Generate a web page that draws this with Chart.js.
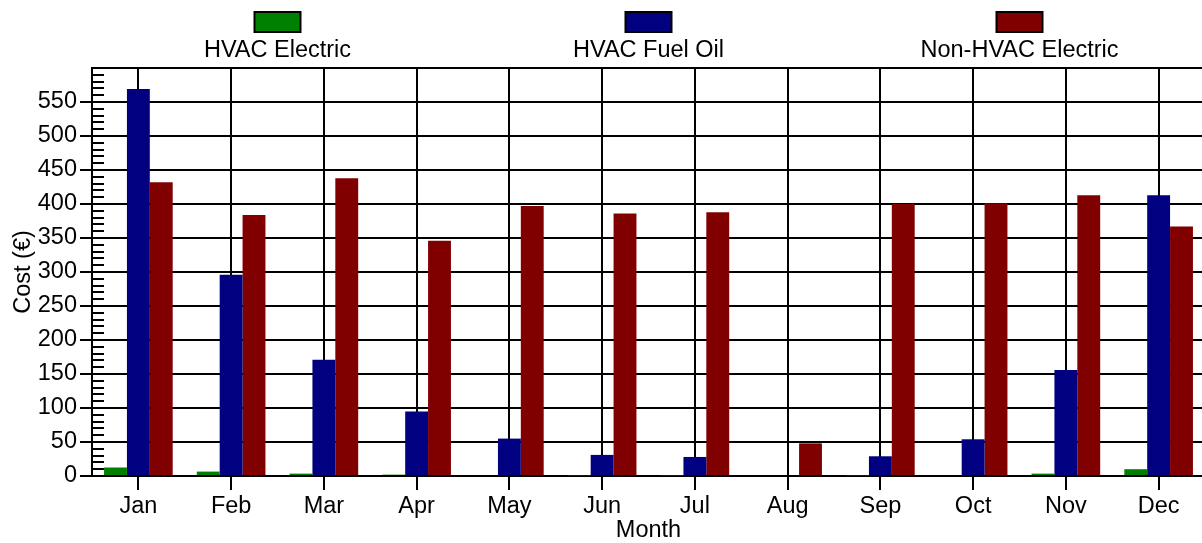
<!DOCTYPE html>
<html>
<head>
<meta charset="utf-8">
<script src="https://cdn.jsdelivr.net/npm/chart.js@4.4.1/dist/chart.umd.min.js"></script>
<style>
  html, body { margin: 0; padding: 0; background: #fff; overflow: hidden; }
  #costChart { display: block; }
</style>
</head>
<body>
<canvas id="costChart" width="1205" height="543"></canvas>
<script>
const MONTHS = ['Jan', 'Feb', 'Mar', 'Apr', 'May', 'Jun', 'Jul', 'Aug', 'Sep', 'Oct', 'Nov', 'Dec'];
const SERIES_NAMES = ['HVAC Electric', 'HVAC Fuel Oil', 'Non-HVAC Electric'];
const HVAC_ELECTRIC = [12.5, 6.5, 3.5, 2, 1.5, 1, 1, 0, 1, 1.5, 3.5, 10];
const HVAC_FUEL_OIL = [569, 296, 171, 95, 55, 31, 28, 0, 29, 54, 156, 413];
const NON_HVAC_ELECTRIC = [432, 384, 438, 346, 397, 386, 388, 48, 400, 401, 413, 367];
const SERIES_COLORS = ['#008000', '#000080', '#800000'];

const FONT = "'Liberation Sans', Arial, sans-serif";
const FONT_SIZE = 23.5;

// small inward ticks every 10 on the cost axis
const minorTicks = {
   id: 'minorTicks',
   afterDraw(chart) {
      const ctx = chart.ctx;
      const y = chart.scales.y;
      ctx.save();
      ctx.strokeStyle = '#000';
      ctx.lineWidth = 2;
      ctx.beginPath();
      for (let v = 10; v < 600; v += 10) {
         const py = Math.round(y.getPixelForValue(v));
         ctx.moveTo(y.right, py);
         ctx.lineTo(y.right + 12, py);
      }
      ctx.stroke();
      ctx.restore();
   }
};

// legend: swatch above its label, one per third of the plot width
const stackedLegend = {
   id: 'stackedLegend',
   afterDraw(chart) {
      const ctx = chart.ctx;
      const area = chart.chartArea;
      const slot = (area.right - area.left) / chart.data.datasets.length;
      ctx.save();
      chart.data.datasets.forEach((ds, i) => {
         const cx = area.left + slot * (i + 0.5);
         ctx.fillStyle = ds.backgroundColor;
         ctx.fillRect(cx - 23, 12, 46, 20);
         ctx.strokeStyle = '#000';
         ctx.lineWidth = 2;
         ctx.strokeRect(cx - 23, 12, 46, 20);
         ctx.fillStyle = '#000';
         ctx.font = FONT_SIZE + 'px ' + FONT;
         ctx.textAlign = 'center';
         ctx.textBaseline = 'alphabetic';
         ctx.fillText(ds.label, cx, 57);
      });
      ctx.restore();
   }
};

const datasets = [HVAC_ELECTRIC, HVAC_FUEL_OIL, NON_HVAC_ELECTRIC].map((values, i) => ({
   label: SERIES_NAMES[i],
   data: values,
   backgroundColor: SERIES_COLORS[i],
   borderWidth: 0,
   categoryPercentage: 0.74,
   barPercentage: 1.0
}));

new Chart(document.getElementById('costChart'), {
   type: 'bar',
   data: { labels: MONTHS, datasets: datasets },
   options: {
      responsive: false,
      maintainAspectRatio: false,
      animation: false,
      devicePixelRatio: 1,
      layout: { padding: { top: 68, left: 0, right: 0, bottom: 0 } },
      plugins: {
         legend: { display: false },
         tooltip: { enabled: false }
      },
      scales: {
         x: {
            afterFit: s => { s.height = 67; },
            grid: {
               offset: false,
               color: '#000',
               lineWidth: 2,
               tickLength: 14,
               tickColor: '#000'
            },
            border: { color: '#000', width: 2 },
            ticks: {
               color: '#000',
               padding: 2,
               font: { family: FONT, size: FONT_SIZE }
            },
            title: {
               display: true,
               text: 'Month',
               color: '#000',
               padding: { top: 0, bottom: -2 },
               font: { family: FONT, size: FONT_SIZE }
            }
         },
         y: {
            min: 0,
            max: 600,
            afterFit: s => { s.width = 92; },
            grid: {
               color: '#000',
               lineWidth: 2,
               tickLength: 12,
               tickColor: ctx => (ctx.tick && ctx.tick.value === 600) ? 'rgba(0,0,0,0)' : '#000'
            },
            border: { color: '#000', width: 2 },
            ticks: {
               stepSize: 50,
               color: '#000',
               padding: 3,
               font: { family: FONT, size: FONT_SIZE },
               callback: v => v === 600 ? '' : v
            },
            title: {
               display: true,
               text: 'Cost (€)',
               color: '#000',
               padding: { top: 9, bottom: 0 },
               font: { family: FONT, size: FONT_SIZE }
            }
         }
      }
   },
   plugins: [minorTicks, stackedLegend]
});
</script>
</body>
</html>
